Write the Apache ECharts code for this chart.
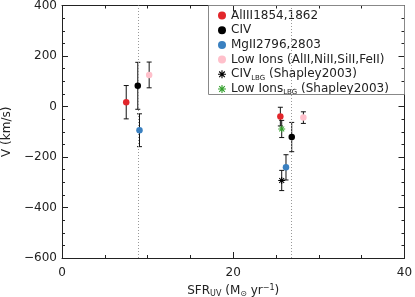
<!DOCTYPE html>
<html><head><meta charset="utf-8">
<script src="https://cdn.jsdelivr.net/npm/echarts@6/dist/echarts.min.js"></script>
<style>html,body{margin:0;padding:0;background:#fff}#c{width:415px;height:297px}</style>
</head><body><div id="c"></div>
<script>
// ---- data ----
const alX = [7.5, 25.5],   alY = [17, -40],   alErr = [66, 37];
const civX = [8.85, 26.83], civY = [82, -121], civErr = [93, 58];
const mgX = [9.05, 26.16], mgY = [-94, -241], mgErr = [65, 50];
const lowX = [10.18, 28.19], lowY = [125, -44], lowErr = [51, 23];
const civLbgX = [25.66], civLbgY = [-293], civLbgErr = [40];
const lowLbgX = [25.66], lowLbgY = [-89], lowLbgErr = [34];
const refLines = [8.9, 26.8];
const names = ['AlIII1854,1862', 'CIV', 'MgII2796,2803', 'Low Ions (AlII,NiII,SiII,FeII)', 'CIV_LBG (Shapley2003)', 'Low Ions_LBG (Shapley2003)'];
const xTicks = {min: 0, max: 40, interval: 20};
const yTicks = {min: -600, max: 400, interval: 200};

const FONT = 'DejaVu Sans';
const zip = (xs, ys) => xs.map((x, i) => [x, ys[i]]);
const zip3 = (xs, ys, es) => xs.map((x, i) => [x, ys[i], es[i]]);
const errData = [].concat(
  zip3(alX, alY, alErr), zip3(civX, civY, civErr), zip3(mgX, mgY, mgErr),
  zip3(lowX, lowY, lowErr), zip3(civLbgX, civLbgY, civLbgErr), zip3(lowLbgX, lowLbgY, lowLbgErr));

// filled thin-armed asterisk (8 arms)
const star = 'path://M0,43L100,43L100,57L0,57Z' +
  'M43,0L57,0L57,100L43,100Z' +
  'M19.9,10L90,80.1L80.1,90L10,19.9Z' +
  'M80.1,10L90,19.9L19.9,90L10,80.1Z';
const fmtMinus = v => String(v).replace('-', '\u2212');
const axisCol = '#222';

function xAx(pos, show) {
  return {type: 'value', position: pos, min: xTicks.min, max: xTicks.max, interval: xTicks.interval,
    axisLine: {show: true, onZero: false, lineStyle: {color: axisCol, width: 1}},
    axisTick: {show: true, inside: true, length: 6, lineStyle: {color: axisCol}},
    minorTick: {show: true, splitNumber: 4, length: 3, lineStyle: {color: axisCol}},
    splitLine: {show: false},
    axisLabel: {show: show, margin: 9, color: '#222', fontFamily: FONT, fontSize: 12, formatter: fmtMinus},
    name: show ? 'SFR{sub|UV} (M{sub|\u2299} yr{sup|\u22121})' : '', nameLocation: 'middle', nameGap: 24,
    nameTextStyle: {color: '#222', fontFamily: FONT, fontSize: 12, lineHeight: 14,
      rich: {sub: {fontFamily: FONT, fontSize: 8, lineHeight: 8, verticalAlign: 'bottom', padding: [6,0,0,0]},
             sup: {fontFamily: FONT, fontSize: 8, lineHeight: 8, verticalAlign: 'top', padding: [0,0,6,0]}}}
  };
}
function yAx(pos, show) {
  return {type: 'value', position: pos, min: yTicks.min, max: yTicks.max, interval: yTicks.interval,
    axisLine: {show: true, onZero: false, lineStyle: {color: axisCol, width: 1}},
    axisTick: {show: true, inside: true, length: 6, lineStyle: {color: axisCol}},
    minorTick: {show: true, splitNumber: 4, length: 3, lineStyle: {color: axisCol}},
    splitLine: {show: false},
    axisLabel: {show: show, margin: 5, color: '#222', fontFamily: FONT, fontSize: 12, formatter: fmtMinus},
    name: show ? 'V (km/s)' : '', nameLocation: 'middle', nameGap: 47, nameRotate: 90,
    nameTextStyle: {color: '#222', fontFamily: FONT, fontSize: 12}
  };
}

const chart = echarts.init(document.getElementById('c'), null, {renderer: 'canvas'});
const ptSeries = (name, xs, ys, color, sym, size, z) => ({
  name: name, type: 'scatter', data: zip(xs, ys), xAxisIndex: 0, yAxisIndex: 0,
  symbol: sym, symbolSize: size, z: z,
  itemStyle: {color: color, opacity: 1},
  silent: true
});

chart.setOption({
  animation: false,
  grid: {left: 62, right: 10.5, top: 5.5, bottom: 39, containLabel: false, outerBoundsMode: 'none'},
  xAxis: [xAx('bottom', true), xAx('top', false)],
  yAxis: [yAx('left', true), yAx('right', false)],
  legend: {
    orient: 'vertical', left: 218, top: 8.5, padding: 0,
    itemWidth: 8, itemHeight: 8, itemGap: 0.7,
    data: names.map((n, i) => ({name: n, icon: i >= 4 ? star : 'circle'})),
    formatter: n => n.replace('_LBG', '{sub|LBG}'),
    textStyle: {color: '#222', fontFamily: FONT, fontSize: 12, lineHeight: 14,
      rich: {sub: {fontFamily: FONT, fontSize: 7, lineHeight: 7, verticalAlign: 'bottom', padding: [5,0,0,0]}}},
    selectedMode: false
  },
  graphic: [{type: 'rect', shape: {x: 208.5, y: 5.5, width: 196, height: 89},
    style: {fill: 'none', stroke: '#888', lineWidth: 1}, z: 10, silent: true}],
  series: [
    {type: 'custom', name: 'err', data: errData, z: 2, silent: true,
     renderItem: (params, api) => {
       const x = api.value(0), y = api.value(1), e = api.value(2);
       const t = api.coord([x, y + e]), b = api.coord([x, y - e]);
       const s = {stroke: '#111', lineWidth: 1};
       return {type: 'group', children: [
         {type: 'line', shape: {x1: t[0], y1: t[1], x2: b[0], y2: b[1]}, style: s},
         {type: 'line', shape: {x1: t[0] - 2.5, y1: t[1], x2: t[0] + 2.5, y2: t[1]}, style: s},
         {type: 'line', shape: {x1: b[0] - 2.5, y1: b[1], x2: b[0] + 2.5, y2: b[1]}, style: s}]};
     },
     markLine: {silent: true, symbol: ['none', 'none'], label: {show: false},
       lineStyle: {type: [1, 2], color: '#999', width: 1},
       data: refLines.map(v => ({xAxis: v}))}},
    ptSeries(names[0], alX, alY, '#e2262b', 'circle', 6.5, 5),
    ptSeries(names[1], civX, civY, '#000000', 'circle', 6.5, 5),
    ptSeries(names[2], mgX, mgY, '#3a80c0', 'circle', 6.5, 5),
    ptSeries(names[3], lowX, lowY, '#ffc0cb', 'circle', 6.5, 5),
    ptSeries(names[4], civLbgX, civLbgY, '#000000', star, 7, 5),
    ptSeries(names[5], lowLbgX, lowLbgY, '#33a02c', star, 7, 5)
  ]
});
</script></body></html>
